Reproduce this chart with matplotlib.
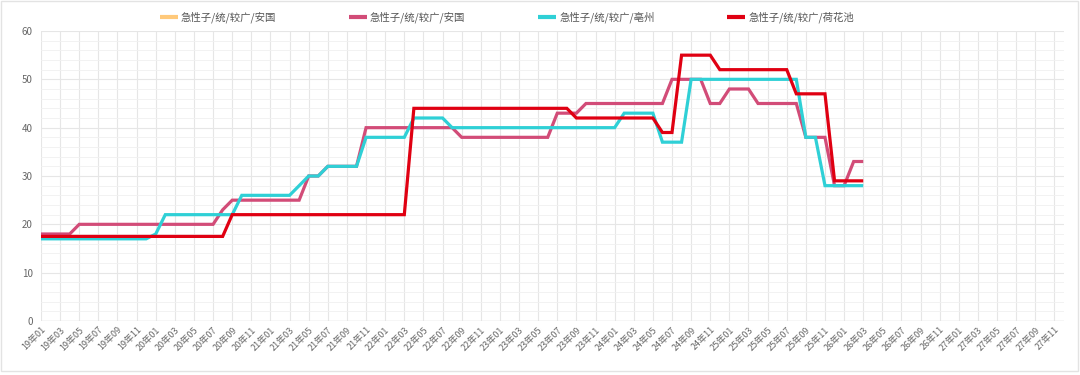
import numpy as np
import matplotlib
matplotlib.use("Agg")
import matplotlib.pyplot as plt
from matplotlib.patches import Rectangle

plt.rcParams['font.family'] = ['Noto Sans CJK SC', 'DejaVu Sans']

# 月份类目 19年01 ~ 27年12
months = [f"{y:02d}年{m:02d}" for y in range(19, 28) for m in range(1, 13)]

series_names = ["急性子/统/较广/安国", "急性子/统/较广/安国", "急性子/统/较广/亳州", "急性子/统/较广/荷花池"]

# 第一个系列没有数据（图中不可见）
orange_vals = []

pink_vals = ([18] * 4 + [20] * 15 + [23] + [25] * 8 + [30] * 2 + [32] * 4 + [40] * 10 + [38] * 10
             + [43] * 3 + [45] * 9 + [50] * 4 + [45] * 2 + [48] * 3 + [45] * 5 + [38] * 3 + [28] * 2 + [33] * 2)

cyan_vals = ([17] * 12 + [18] + [22] * 8 + [26] * 6 + [28] + [30] * 2 + [32] * 4 + [38] * 5 + [42] * 4
             + [40] * 18 + [43] * 4 + [37] * 3 + [50] * 12 + [38] * 2 + [28] * 5)

red_vals = ([17.5] * 20 + [22] * 19 + [44] * 17 + [42] * 9 + [39] * 2 + [55] * 4 + [52] * 8
            + [47] * 4 + [29] * 4)

colors = ["#FFC97A", "#D24C78", "#2FD0D6", "#E00012"]


def main():
    fig = plt.figure(figsize=(10.8, 3.75), dpi=100)
    ax = fig.add_axes([41 / 1080, 54 / 375, 1023 / 1080, 290 / 375])

    x = np.arange(len(months))
    all_vals = [orange_vals, pink_vals, cyan_vals, red_vals]
    for name, vals, c in zip(series_names, all_vals, colors):
        ax.plot(x[:len(vals)], vals, color=c, lw=2.3, label=name,
                solid_joinstyle='miter', solid_capstyle='butt')

    ax.set_xlim(0, len(months) - 1)
    ax.set_ylim(0, 60)
    ax.set_yticks(np.arange(0, 61, 10))
    ax.set_yticks(np.arange(0, 61, 2), minor=True)
    ax.set_xticks(x[::2])
    ax.set_xticklabels(months[::2], rotation=45, ha='right', rotation_mode='anchor',
                       fontsize=6.5, color='#666666')
    ax.tick_params(axis='y', labelsize=7, colors='#666666', length=0, pad=6)
    ax.tick_params(axis='y', which='minor', length=0)
    ax.tick_params(axis='x', length=0, pad=3)

    ax.grid(True, which='major', color='#E6E6E6', lw=0.8)
    ax.grid(True, which='minor', axis='y', color='#F0F0F0', lw=0.6)
    ax.set_axisbelow(True)
    for s in ax.spines.values():
        s.set_visible(False)
    ax.axhline(0, color='#DDDDDD', lw=1, zorder=1)

    leg = fig.legend(loc='center left', bbox_to_anchor=(160 / 1080, 1 - 17 / 375), ncol=4,
                     frameon=False, fontsize=7.5, handlelength=1.7, handletextpad=0.3,
                     columnspacing=7.0, borderpad=0, borderaxespad=0)
    for t in leg.get_texts():
        t.set_color('#555555')
    for h in leg.get_lines():
        h.set_linewidth(3)

    # 外边框
    fig.patches.append(Rectangle((1 / 1080, 4 / 375), 1077 / 1080, 370 / 375, transform=fig.transFigure,
                                 fill=False, edgecolor='#E3E3E3', lw=1))

    fig.savefig("out.png", dpi=100)
    plt.close()


if __name__ == '__main__':
    main()
